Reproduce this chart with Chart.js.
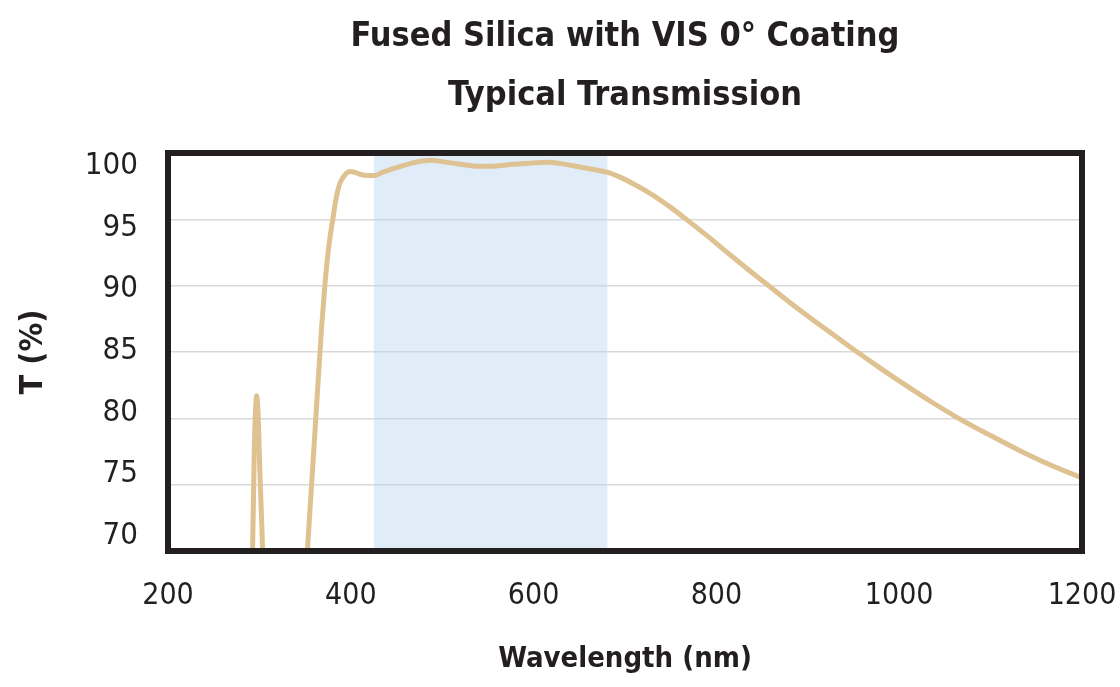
<!DOCTYPE html>
<html>
<head>
<meta charset="utf-8">
<script src="https://cdn.jsdelivr.net/npm/chart.js@4/dist/chart.umd.min.js"></script>
<style>
  html, body { margin: 0; padding: 0; background: #fff; }
  #wrap { width: 1120px; height: 687px; }
</style>
</head>
<body>
<div id="wrap"><canvas id="chart" width="1120" height="687"></canvas></div>
<script>
// wavelength (nm) and transmission (%)
const wavelengths = [280, 286, 290, 292.5, 294.5, 296, 297, 298.5, 300.5, 303.5, 306, 310, 318, 330, 340, 347,
  352.5, 358.5, 365, 368, 371.6, 376, 380.3, 384, 388, 393, 399, 404, 410, 418, 426, 435, 450, 465, 478, 488, 500,
  520, 540, 555, 570, 590, 614, 630, 654, 670, 683, 694, 710, 730, 750, 767, 790, 810, 835, 858, 880,
  905, 930, 953, 980, 1007, 1035, 1065, 1100, 1131, 1165, 1200]
const transmission = [20, 35, 55, 70, 78, 81, 81.7, 80.5, 76, 70, 62, 50, 35, 30, 45, 63,
  70, 76.5, 83.6, 86.8, 90, 93, 95, 96.6, 97.7, 98.3, 98.6, 98.55, 98.4, 98.3, 98.3, 98.55, 98.9, 99.2, 99.4, 99.45, 99.35,
  99.15, 99.0, 99.0, 99.1, 99.2, 99.3, 99.2, 98.9, 98.7, 98.5, 98.2, 97.65, 96.85, 95.9, 95.0, 93.75, 92.6, 91.2, 89.95, 88.75,
  87.45, 86.2, 85.05, 83.75, 82.5, 81.25, 80.0, 78.7, 77.6, 76.5, 75.5]

// visible design band (nm)
const bandRange = [425, 681]

const xTicks = [200, 400, 600, 800, 1000, 1200]
const yTicks = [70, 75, 80, 85, 90, 95, 100]

const titleLines = ['Fused Silica with VIS 0\u00B0 Coating', 'Typical Transmission']

const FONT = "'Liberation Sans Narrow', 'DejaVu Sans Condensed', sans-serif"
const INK = '#231f20'

const frame = {
    id: 'frame',
    afterDraw(chart) {
        const { ctx, chartArea: a } = chart
        ctx.save()
        ctx.strokeStyle = INK
        ctx.lineWidth = 6
        ctx.strokeRect(a.left, a.top, a.right - a.left, a.bottom - a.top)
        ctx.restore()
    }
}

new Chart(document.getElementById('chart').getContext('2d'), {
    type: 'line',
    data: {
        datasets: [
            {
                label: 'T',
                data: wavelengths.map((w, i) => ({ x: w, y: transmission[i] })),
                borderColor: '#dfc291',
                borderWidth: 5,
                pointRadius: 0,
                cubicInterpolationMode: 'monotone',
                fill: false
            },
            {
                label: 'band',
                data: bandRange.map(w => ({ x: w, y: 100 })),
                borderWidth: 0,
                pointRadius: 0,
                backgroundColor: 'rgba(180,210,236,0.42)',
                fill: 'start'
            }
        ]
    },
    options: {
        responsive: false,
        animation: false,
        layout: { padding: { left: 0, right: 38, top: 0, bottom: 0 } },
        plugins: {
            legend: { display: false },
            tooltip: { enabled: false },
            title: {
                display: true,
                fullSize: false,
                text: titleLines,
                color: INK,
                font: { family: FONT, size: 34, weight: 'bold', lineHeight: 59 / 34 },
                padding: { top: 8, bottom: 27 }
            }
        },
        scales: {
            x: {
                type: 'linear',
                min: 200,
                max: 1200,
                afterFit: s => { s.height = 136; s.paddingLeft = 0; s.paddingRight = 0 },
                afterBuildTicks: s => { s.ticks = xTicks.map(v => ({ value: v })) },
                grid: { display: false, drawTicks: false },
                border: { display: false },
                ticks: {
                    color: INK,
                    padding: 27,
                    maxRotation: 0,
                    font: { family: FONT, size: 30 },
                    callback: v => String(v)
                },
                title: {
                    display: true,
                    text: 'Wavelength (nm)',
                    color: INK,
                    font: { family: FONT, size: 29, weight: 'bold' },
                    padding: { top: 0, bottom: 10 }
                }
            },
            y: {
                min: 70,
                max: 100,
                position: 'left',
                afterFit: s => { s.width = 0 },
                ticks: { display: false, stepSize: 5 },
                grid: { color: '#d9d9d9', lineWidth: 1.5, drawTicks: false },
                border: { display: false }
            },
            yl: {
                position: 'left',
                min: 68.784,
                max: 101.054,
                afterFit: s => { s.width = 168 },
                afterBuildTicks: s => { s.ticks = yTicks.map(v => ({ value: v })) },
                grid: { display: false, drawTicks: false },
                border: { display: false },
                ticks: {
                    color: INK,
                    padding: 30,
                    font: { family: FONT, size: 31 },
                    callback: v => String(v)
                },
                title: {
                    display: true,
                    text: 'T (%)',
                    color: INK,
                    font: { family: FONT, size: 32, weight: 'bold' },
                    padding: { top: 14, bottom: 0 }
                }
            }
        }
    },
    plugins: [frame]
})
</script>
</body>
</html>
